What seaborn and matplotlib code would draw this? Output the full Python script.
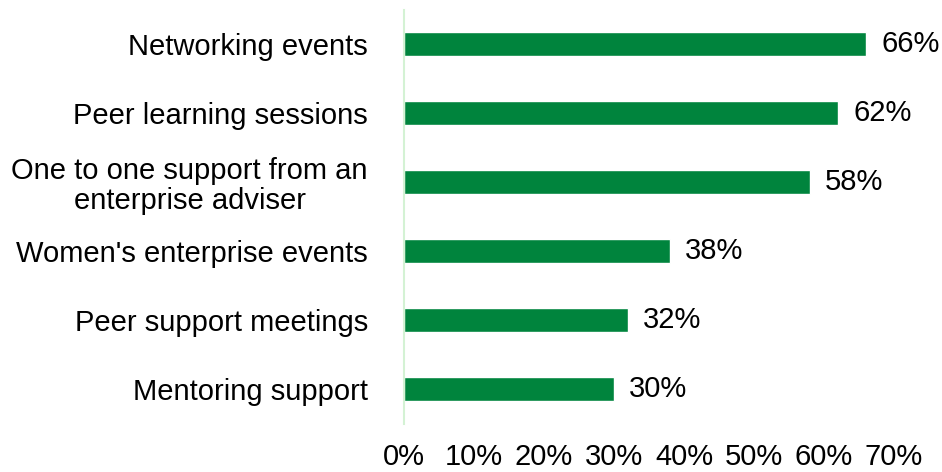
import matplotlib
matplotlib.use("Agg")
import matplotlib.pyplot as plt
import seaborn as sns
import pandas as pd

categories = [
    "Networking events",
    "Peer learning sessions",
    "One to one support from an\nenterprise adviser",
    "Women's enterprise events",
    "Peer support meetings",
    "Mentoring support",
]
values = [66, 62, 58, 38, 32, 30]
tick_values = [0, 10, 20, 30, 40, 50, 60, 70]
tick_labels = [f"{v}%" for v in tick_values]

df = pd.DataFrame({"category": categories, "value": values})

sns.set_theme(style="white")
plt.rcParams["font.family"] = ["Liberation Sans", "DejaVu Sans"]

FS = 21

fig = plt.figure(figsize=(9.42, 4.72), dpi=100)
ax = fig.add_axes([404 / 942, 1 - 423.5 / 472, (894 - 404) / 942, (423.5 - 9.5) / 472])

bar_color = "#00843D"
sns.barplot(data=df, x="value", y="category", color=bar_color, width=0.35,
            saturation=1, ax=ax, orient="h")

ax.set_xlim(0, 70)
ax.set_ylim(5.5, -0.5)
ax.set_xticks(tick_values)
ax.set_xticklabels(tick_labels, fontsize=FS, color="#000000")
ax.tick_params(axis="x", length=0, pad=14)
ax.tick_params(axis="y", length=0, pad=26)
for lbl in ax.get_yticklabels():
    lbl.set_fontsize(FS)
    lbl.set_color("#000000")
    lbl.set_multialignment("center")
    lbl.set_linespacing(1.08)
ax.set_xlabel("")
ax.set_ylabel("")

for side in ["top", "right", "bottom"]:
    ax.spines[side].set_visible(False)
ax.spines["left"].set_color("#d4f2d4")
ax.spines["left"].set_linewidth(1.5)

for i, v in enumerate(values):
    ax.annotate(f"{v}%", xy=(v, i), xytext=(11, 0), textcoords="offset points",
                va="center", ha="left", fontsize=FS, color="#000000")

fig.savefig("out.png", dpi=100)
